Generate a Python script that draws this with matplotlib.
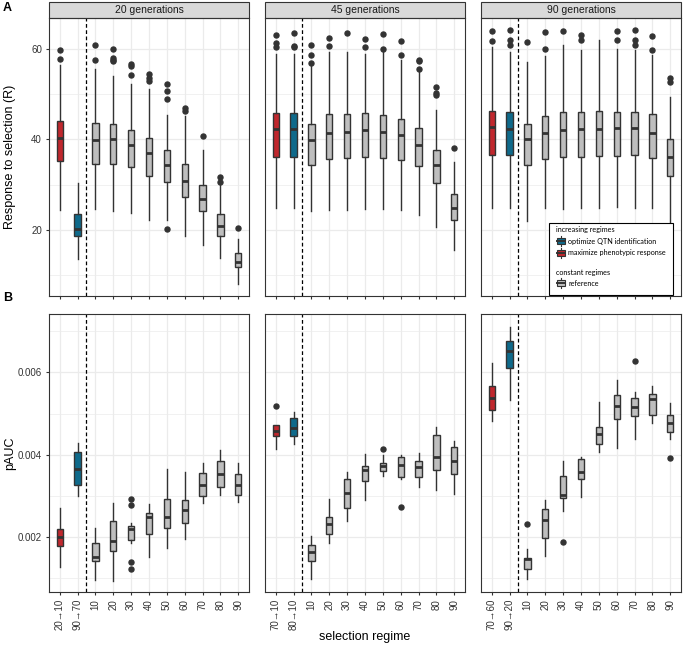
import matplotlib
matplotlib.use("Agg")
import matplotlib.pyplot as plt
from matplotlib.patches import Rectangle, Patch
from matplotlib.legend_handler import HandlerBase
from matplotlib.lines import Line2D

plt.rcParams['font.family'] = ['Liberation Sans', 'DejaVu Sans']

gens = ["20 generations", "45 generations", "90 generations"]
const_labels = ["10", "20", "30", "40", "50", "60", "70", "80", "90"]
incr_labels = [["20\u219210", "90\u219270"], ["70\u219210", "80\u219210"], ["70\u219260", "90\u219220"]]

red = "#C0272D"
blue = "#0F6A8B"
gray = "#BEBEBE"
box_colors = [red, blue] + [gray] * 9

# response to selection (R), one list per panel
r_q1 = [[35.2, 18.6, 34.6, 34.5, 33.8, 32.0, 30.6, 27.2, 24.1, 18.6, 11.7],
        [36.0, 36.2, 34.4, 35.6, 35.9, 36.2, 35.8, 35.4, 34.1, 30.4, 22.1],
        [36.5, 36.6, 34.4, 35.6, 36.0, 36.0, 36.3, 36.3, 36.5, 35.9, 32.0]]
r_med = [[40.3, 20.2, 39.85, 40.0, 38.7, 36.9, 34.4, 30.8, 26.7, 20.8, 12.8],
         [42.3, 42.2, 39.85, 41.5, 41.7, 42.0, 41.7, 40.9, 38.7, 34.3, 24.7],
         [42.8, 42.4, 40.1, 41.5, 42.1, 42.2, 42.4, 42.6, 42.5, 41.5, 36.2]]
r_q3 = [[44.0, 23.4, 43.7, 43.5, 42.0, 40.4, 37.6, 34.6, 30.0, 23.5, 14.8],
        [45.8, 45.9, 43.5, 45.6, 45.6, 45.8, 45.5, 44.6, 42.5, 37.6, 27.8],
        [46.3, 46.0, 43.5, 45.2, 46.0, 46.0, 46.3, 46.0, 46.0, 45.6, 40.0]]
r_lo = [[24.4, 13.4, 24.6, 24.2, 23.6, 22.1, 22.1, 18.5, 16.5, 13.8, 8.0],
        [24.7, 24.7, 24.2, 24.4, 24.4, 24.6, 24.6, 24.4, 23.2, 20.7, 15.5],
        [24.9, 24.9, 22.0, 24.9, 24.5, 24.9, 24.9, 25.0, 24.9, 24.7, 20.0]]
r_hi = [[56.5, 30.4, 55.7, 54.0, 52.2, 51.1, 45.5, 45.2, 37.6, 29.9, 17.9],
        [59.0, 59.0, 56.2, 59.4, 59.4, 59.0, 59.4, 57.5, 55.0, 46.5, 34.9],
        [60.5, 59.3, 57.1, 58.5, 60.9, 59.8, 62.1, 60.0, 59.8, 58.8, 49.4]]
r_fliers = [[[57.9, 59.8], [], [57.7, 61.0], [57.3, 57.7, 58.1, 60.0], [54.3, 56.3, 56.8],
             [52.9, 53.7, 54.6], [20.2, 48.9, 50.8, 52.2], [46.3, 47.0], [40.8], [30.5, 31.7], [20.3]],
            [[60.4, 61.4, 63.2], [60.4, 60.8, 63.6], [57.0, 58.7, 61.0], [60.7, 62.4], [63.6],
             [60.4, 62.2], [60.1, 63.4], [58.8, 61.8], [55.6, 57.3, 57.7], [49.8, 50.3, 51.7], [38.0]],
            [[61.9, 64.0], [60.9, 62.1, 64.2], [61.5], [60.0, 63.8], [64.0], [62.0, 63.1], [],
             [62.0, 64.0], [60.9, 62.1, 64.2], [59.9, 63.0], [52.8, 53.7]]]

# pAUC
p_q1 = [[0.00179, 0.00326, 0.00143, 0.00167, 0.00193, 0.00209, 0.00222, 0.00234, 0.00300, 0.00321, 0.00303],
        [0.00445, 0.00446, 0.00142, 0.00207, 0.00270, 0.00336, 0.00362, 0.00347, 0.00346, 0.00363, 0.00353],
        [0.00508, 0.00610, 0.00124, 0.00197, 0.00296, 0.00342, 0.00426, 0.00488, 0.00494, 0.00497, 0.00455]]
p_med = [[0.00200, 0.00366, 0.00153, 0.00192, 0.00220, 0.00250, 0.00248, 0.00266, 0.00326, 0.00354, 0.00327],
         [0.00457, 0.00465, 0.00164, 0.00232, 0.00307, 0.00363, 0.00374, 0.00376, 0.00370, 0.00396, 0.00386],
         [0.00537, 0.00651, 0.00146, 0.00241, 0.00302, 0.00359, 0.00450, 0.00518, 0.00515, 0.00536, 0.00477]]
p_q3 = [[0.00221, 0.00407, 0.00187, 0.00240, 0.00227, 0.00260, 0.00293, 0.00291, 0.00357, 0.00386, 0.00353],
        [0.00472, 0.00489, 0.00181, 0.00250, 0.00342, 0.00372, 0.00381, 0.00394, 0.00385, 0.00449, 0.00419],
        [0.00567, 0.00676, 0.00150, 0.00268, 0.00349, 0.00389, 0.00468, 0.00545, 0.00538, 0.00548, 0.00497]]
p_lo = [[0.00128, 0.00299, 0.00096, 0.00093, 0.00185, 0.00151, 0.00175, 0.00195, 0.00284, 0.00303, 0.00285],
        [0.00414, 0.00426, 0.00099, 0.00186, 0.00240, 0.00290, 0.00349, 0.00342, 0.00321, 0.00314, 0.00305],
        [0.00482, 0.00534, 0.00098, 0.00154, 0.00264, 0.00297, 0.00407, 0.00416, 0.00438, 0.00477, 0.00438]]
p_hi = [[0.00270, 0.00428, 0.00222, 0.00282, 0.00234, 0.00280, 0.00365, 0.00359, 0.00380, 0.00411, 0.00381],
        [0.00472, 0.00504, 0.00202, 0.00292, 0.00359, 0.00403, 0.00400, 0.00400, 0.00404, 0.00467, 0.00433],
        [0.00624, 0.00711, 0.00172, 0.00290, 0.00385, 0.00394, 0.00529, 0.00581, 0.00553, 0.00566, 0.00526]]
p_fliers = [[[], [], [], [], [0.00122, 0.00140, 0.00278, 0.00292], [], [], [], [], [], []],
            [[0.00518], [], [], [], [], [], [0.00415], [0.00273], [], [], []],
            [[], [], [0.00232], [], [0.00188], [], [], [], [0.00627], [], [0.00392]]]

dark = "#333333"
grid_c = "#EBEBEB"


def make_stats(q1, med, q3, lo, hi, fl):
    return [dict(q1=a, med=b, q3=c, whislo=d, whishi=e, fliers=f)
            for a, b, c, d, e, f in zip(q1, med, q3, lo, hi, fl)]


class BoxGlyph(HandlerBase):
    def create_artists(self, legend, orig_handle, xdescent, ydescent, width, height, fontsize, trans):
        x0, y0 = -xdescent, -ydescent
        cx = x0 + width / 2
        whisk = Line2D([cx, cx], [y0 - 0.35 * height, y0 + 1.35 * height], color=dark, lw=0.8, transform=trans)
        rect = Rectangle((x0 + 0.1 * width, y0), 0.8 * width, height, facecolor=orig_handle.get_facecolor(),
                         edgecolor=dark, lw=0.8, transform=trans)
        med = Line2D([x0 + 0.1 * width, x0 + 0.9 * width], [y0 + height / 2] * 2, color=dark, lw=1.4, transform=trans)
        return [whisk, rect, med]


fig = plt.figure(figsize=(6.83, 6.51), dpi=100)
lefts = [49 / 683, 265 / 683, 481 / 683]
w = 200 / 683
rows = [(1 - 296 / 651, 278 / 651), (1 - 592 / 651, 278 / 651)]
pos = list(range(1, 12))

for row in range(2):
    for col in range(3):
        ax = fig.add_axes([lefts[col], rows[row][0], w, rows[row][1]])
        if row == 0:
            st = make_stats(r_q1[col], r_med[col], r_q3[col], r_lo[col], r_hi[col], r_fliers[col])
        else:
            st = make_stats(p_q1[col], p_med[col], p_q3[col], p_lo[col], p_hi[col], p_fliers[col])
        bp = ax.bxp(st, positions=pos, widths=0.35, patch_artist=True, showcaps=False,
                    boxprops=dict(edgecolor=dark, linewidth=1.0),
                    medianprops=dict(color=dark, linewidth=2.0),
                    whiskerprops=dict(color=dark, linewidth=1.0),
                    flierprops=dict(marker='o', markerfacecolor=dark, markeredgecolor=dark, markersize=3.6))
        for patch, c in zip(bp['boxes'], box_colors):
            patch.set_facecolor(c)
        ax.axvline(2.45, color='black', linestyle=(0, (3, 2)), linewidth=0.9)
        ax.set_xlim(0.4, 11.6)
        if row == 0:
            ax.set_ylim(5.3, 66.9)
            ax.set_yticks([20, 40, 60])
            ax.set_yticks([10, 30, 50], minor=True)
            ax.set_xticks(pos)
            ax.set_xticklabels([])
            ax.add_patch(Rectangle((0, 1), 1, 16 / 278, transform=ax.transAxes, clip_on=False,
                                   facecolor="#D9D9D9", edgecolor=dark, linewidth=0.8))
            ax.text(0.5, 1 + 8 / 278, gens[col], transform=ax.transAxes, ha='center', va='center',
                    fontsize=7.5, color="#1A1A1A")
        else:
            ax.set_ylim(0.00067, 0.00742)
            ax.set_yticks([0.002, 0.004, 0.006])
            ax.set_yticks([0.001, 0.003, 0.005, 0.007], minor=True)
            ax.set_xticks(pos)
            ax.set_xticklabels(incr_labels[col] + const_labels, rotation=90, fontsize=6.5, color=dark)
        ax.grid(True, which='major', color=grid_c, linewidth=0.9)
        ax.grid(True, which='minor', axis='y', color=grid_c, linewidth=0.5)
        ax.set_axisbelow(True)
        ax.tick_params(which='minor', left=False)
        ax.tick_params(which='major', length=2.5, width=0.8, color=dark, labelsize=7, labelcolor=dark, pad=2.5)
        for s in ax.spines.values():
            s.set_color(dark)
            s.set_linewidth(0.8)
        if col == 0:
            ax.set_yticklabels(["0.002", "0.004", "0.006"] if row == 1 else ["20", "40", "60"])
        else:
            ax.tick_params(axis='y', left=False, labelleft=False)
        if row == 0 and col == 2:
            frame = Rectangle((0.342, 0.004), 0.618, 0.259, transform=ax.transAxes, facecolor='white',
                              edgecolor='black', linewidth=0.8, zorder=4.9)
            ax.add_patch(frame)
            leg_font = {'family': 'Lato', 'size': 5.2}
            h1 = [Patch(facecolor=blue), Patch(facecolor=red)]
            leg1 = ax.legend(h1, ["optimize QTN identification", "maximize phenotypic response"],
                             title="increasing regimes", loc='upper left', bbox_to_anchor=(0.35, 0.27),
                             frameon=False, prop=leg_font, title_fontproperties=leg_font,
                             handler_map={Patch: BoxGlyph()}, handlelength=1.3, handleheight=0.9,
                             handletextpad=0.4, labelspacing=0.65, borderpad=0.2, alignment='left')
            ax.add_artist(leg1)
            leg2 = ax.legend([Patch(facecolor=gray)], ["reference"], title="constant regimes",
                             loc='upper left', bbox_to_anchor=(0.35, 0.115), frameon=False,
                             prop=leg_font, title_fontproperties=leg_font,
                             handler_map={Patch: BoxGlyph()}, handlelength=1.3, handleheight=0.9,
                             handletextpad=0.4, labelspacing=0.5, borderpad=0.2, alignment='left')

fig.text(3 / 683, 1 - 8 / 651, "A", fontsize=9, fontweight='bold', va='center')
fig.text(3 / 683, 1 - 298 / 651, "B", fontsize=9, fontweight='bold', va='center')
fig.text(10 / 683, 1 - 157 / 651, "Response to selection (R)", fontsize=9, rotation=90, ha='center', va='center')
fig.text(10 / 683, 1 - 453 / 651, "pAUC", fontsize=9, rotation=90, ha='center', va='center')
fig.text(365 / 683, 1 - 637 / 651, "selection regime", fontsize=9, ha='center', va='center')

fig.savefig("out.png", dpi=100)
